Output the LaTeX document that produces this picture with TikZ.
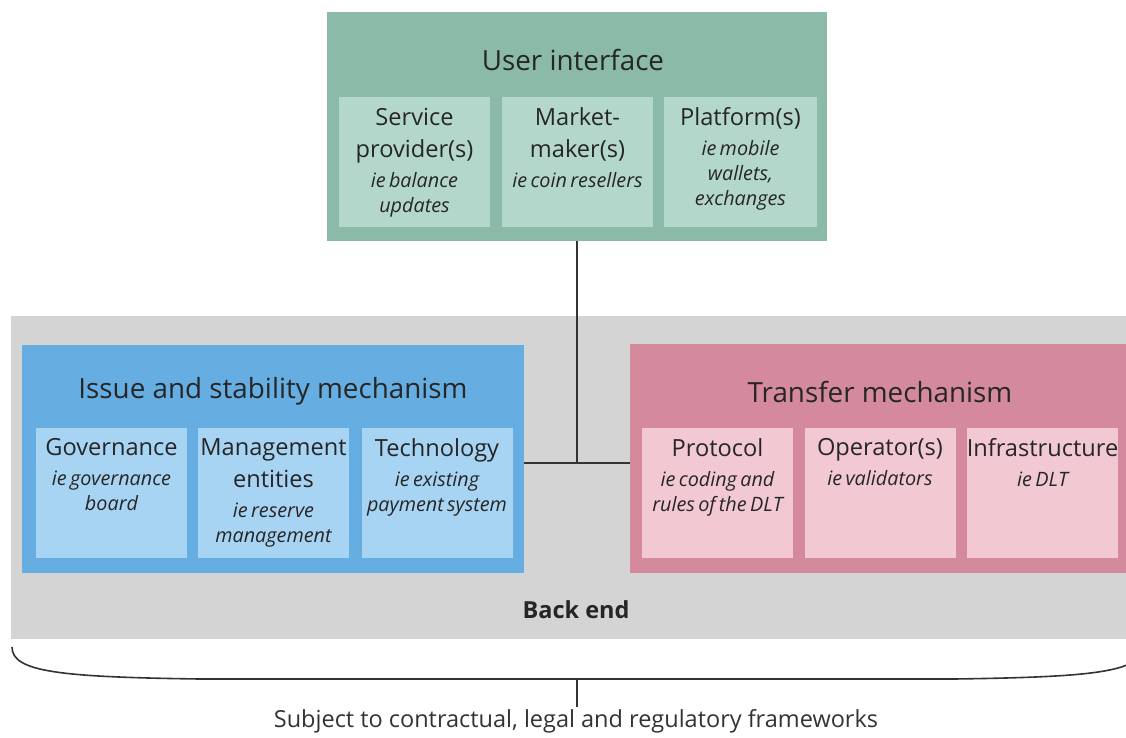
\documentclass[tikz,border=0pt]{standalone}
\usepackage{fontspec}
\setmainfont{Open Sans}
\definecolor{uiout}{HTML}{8BBAA9}
\definecolor{uiin}{HTML}{B4D7CB}
\definecolor{blout}{HTML}{66AEE2}
\definecolor{blin}{HTML}{A7D4F3}
\definecolor{pkout}{HTML}{D4899D}
\definecolor{pkin}{HTML}{F2C8D2}
\definecolor{bgray}{HTML}{D4D4D4}
\definecolor{txt}{HTML}{262626}
\definecolor{ln}{HTML}{333333}
\tikzset{
  panel/.style={draw=none, inner sep=0pt, outer sep=0pt, rectangle},
  cell/.style={panel, minimum width=151pt, minimum height=130pt},
  celltext/.style={anchor=north, inner sep=0pt, text width=153pt, align=center, text=txt},
  title/.style={inner sep=0pt, text=txt, font=\fontsize{27.8}{32}\selectfont},
  conn/.style={draw=ln, line width=2.8pt},
  brace/.style={draw=ln, line width=1.6pt}
}
\newcommand{\mainf}{\fontsize{23.6}{32}\selectfont}
\newcommand{\subf}{\fontsize{19.8}{25}\selectfont\itshape}
\newcommand{\celltxt}[2]{{\mainf #1\par}\vskip 5pt{\subf #2\par}}
\begin{document}
\begin{tikzpicture}[x=1pt,y=-1pt]
\useasboundingbox (0,0) rectangle (1126,737);
% back end
\node[panel, fill=bgray, minimum width=1125pt, minimum height=323pt, anchor=north west] (back) at (11,316) {};
\node[inner sep=0pt, text=txt, font=\fontsize{23.5}{27}\selectfont\bfseries] (backlbl) at (576,610) {Back end};
% user interface
\node[panel, fill=uiout, minimum width=500pt, minimum height=229pt, anchor=north west] (ui) at (327,12) {};
\node[title] (uit) at (573,60) {User interface};
\node[cell, fill=uiin] (u1) at (414.5,162) {};
\node[cell, fill=uiin] (u2) at (577.5,162) {};
\node[cell, fill=uiin, minimum width=153pt] (u3) at (740.5,162) {};
\node[celltext] at ([yshift=-10.5pt]u1.north) {\celltxt{Service\\provider(s)}{ie balance\\updates}};
\node[celltext] at ([yshift=-10.5pt]u2.north) {\celltxt{Market-\\maker(s)}{ie coin resellers}};
\node[celltext] at ([yshift=-10.5pt]u3.north) {\celltxt{Platform(s)}{ie mobile\\wallets,\\exchanges}};
% issue and stability
\node[panel, fill=blout, minimum width=502pt, minimum height=228pt, anchor=north west] (blue) at (22,345) {};
\node[title] (bluet) at (273,391) {Issue and stability mechanism};
\node[cell, fill=blin] (b1) at (111.5,493) {};
\node[cell, fill=blin] (b2) at (273.5,493) {};
\node[cell, fill=blin] (b3) at (437,493) {};
\node[celltext] at ([yshift=-10.5pt]b1.north) {\celltxt{Governance}{ie governance\\board}};
\node[celltext] at ([yshift=-10.5pt]b2.north) {\celltxt{Management\\entities}{ie reserve\\management}};
\node[celltext] at ([yshift=-10.5pt]b3.north) {\celltxt{Technology}{ie existing\\payment system}};
% transfer
\node[panel, fill=pkout, minimum width=510pt, minimum height=229pt, anchor=north west] (pink) at (630,344) {};
\node[title] (pinkt) at (880,392) {Transfer mechanism};
\node[cell, fill=pkin] (p1) at (717.5,493) {};
\node[cell, fill=pkin] (p2) at (880,493) {};
\node[cell, fill=pkin] (p3) at (1042.5,493) {};
\node[celltext] at ([yshift=-10.5pt]p1.north) {\celltxt{Protocol}{ie coding and\\rules of the DLT}};
\node[celltext] at ([yshift=-10.5pt]p2.north) {\celltxt{Operator(s)}{ie validators}};
\node[celltext] at ([yshift=-10.5pt]p3.north) {\celltxt{Infrastructure}{ie DLT}};
% connectors
\coordinate (j) at (577,463);
\draw[conn] (ui.south) -- (j);
\draw[conn] (blue.east |- j) -- (pink.west |- j);
% brace
\coordinate (bl) at (12,647);
\coordinate (br) at (1142,647);
\coordinate (bm) at (577,679);
\coordinate (tick) at (577,707);
\draw[brace] (bl) .. controls (12,672) and (60,677) .. (200,679) -- (954,679) .. controls (1094,677) and (1142,672) .. (br);
\draw[brace, line width=1.2pt] (bm) -- (tick);
\node[inner sep=0pt, text=ln, font=\fontsize{23.5}{27}\selectfont] (note) at (576,721) {Subject to contractual, legal and regulatory frameworks};
\end{tikzpicture}
\end{document}
